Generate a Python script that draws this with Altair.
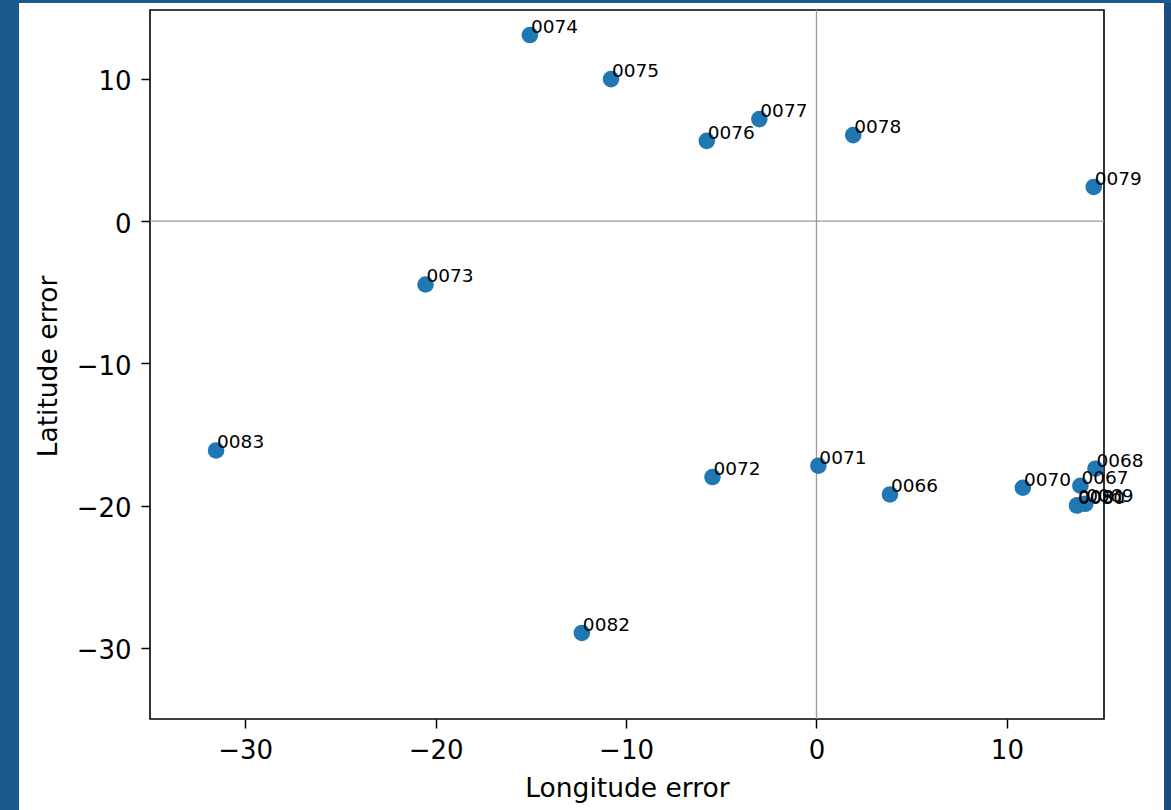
import altair as alt
import pandas as pd

labels = ["0066", "0067", "0068", "0069", "0070", "0071", "0072", "0073", "0074",
          "0075", "0076", "0077", "0078", "0079", "0080", "0081", "0082", "0083"]
lon_err = [3.86, 13.86, 14.65, 14.12, 10.84, 0.1, -5.46, -20.53, -15.05,
           -10.79, -5.76, -3.0, 1.93, 14.56, 13.68, 13.70, -12.32, -31.53]
lat_err = [-19.21, -18.6, -17.4, -19.87, -18.74, -17.19, -17.99, -4.45, 13.09,
           9.99, 5.65, 7.18, 6.05, 2.41, -19.99, -19.97, -28.95, -16.12]

x_ticks = [-30, -20, -10, 0, 10]
y_ticks = [-30, -20, -10, 0, 10]
x_domain = [-35, 15.1]
y_domain = [-35, 14.85]

df = pd.DataFrame({"label": labels, "lon": lon_err, "lat": lat_err})

FONT = "DejaVu Sans"
EDGE = "#1b5a8c"

xs = alt.Scale(domain=x_domain, nice=False, zero=False)
ys = alt.Scale(domain=y_domain, nice=False, zero=False)

x_axis = alt.Axis(values=x_ticks, title="Longitude error", grid=False, domain=False,
                  tickColor="black", tickWidth=1.5, tickSize=9,
                  labelFont=FONT, labelFontSize=26, labelColor="black",
                  labelBaseline="alphabetic", labelPadding=30,
                  titleFont=FONT, titleFontSize=26.5, titleFontWeight="normal",
                  titleColor="black", titleBaseline="alphabetic", titleY=77.5)
y_axis = alt.Axis(values=y_ticks, title="Latitude error", grid=False, domain=False,
                  tickColor="black", tickWidth=1.5, tickSize=9,
                  labelFont=FONT, labelFontSize=26, labelColor="black",
                  labelBaseline="alphabetic", labelOffset=11, labelPadding=10,
                  titleFont=FONT, titleFontSize=26.5, titleFontWeight="normal",
                  titleColor="black", titleBaseline="alphabetic",
                  titleX=-94, titleY=356)

one = pd.DataFrame({"a": [0]})
# screenshot's blue surround (decoration outside the white figure)
edge_left = alt.Chart(one).mark_rect(color=EDGE).encode(
    x=alt.value(-150), x2=alt.value(-131), y=alt.value(-10), y2=alt.value(800))
edge_right = alt.Chart(one).mark_rect(color="#1a4c80").encode(
    x=alt.value(1014), x2=alt.value(1021), y=alt.value(-10), y2=alt.value(800))
edge_top = alt.Chart(one).mark_rect(color=EDGE).encode(
    x=alt.value(-150), x2=alt.value(1021), y=alt.value(-10), y2=alt.value(-7))

zero_v = alt.Chart(pd.DataFrame({"z": [0]})).mark_rule(color="#9a9a9a", strokeWidth=1.3).encode(
    x=alt.X("z:Q", scale=xs, axis=x_axis)
)
zero_h = alt.Chart(pd.DataFrame({"z": [0]})).mark_rule(color="#9a9a9a", strokeWidth=1.3).encode(
    y=alt.Y("z:Q", scale=ys, axis=y_axis)
)

points = alt.Chart(df).mark_circle(size=275, color="#1f77b4", opacity=1).encode(
    x=alt.X("lon:Q", scale=xs, axis=x_axis),
    y=alt.Y("lat:Q", scale=ys, axis=y_axis),
)

texts = alt.Chart(df).mark_text(align="left", baseline="alphabetic", dx=1, dy=-2,
                                font=FONT, fontSize=18.5, color="black").encode(
    x=alt.X("lon:Q", scale=xs, axis=x_axis),
    y=alt.Y("lat:Q", scale=ys, axis=y_axis),
    text="label:N",
)

chart = alt.layer(zero_v, zero_h, points, texts, edge_left, edge_right, edge_top).properties(
    width=954, height=709,
    autosize=alt.AutoSizeParams(type="none"),
    padding={"left": 150, "top": 10, "right": 67, "bottom": 91},
    background="white",
).configure_view(stroke="black", strokeWidth=1.6)

chart.save("out.html", embed_options={"renderer": "svg", "actions": False})
